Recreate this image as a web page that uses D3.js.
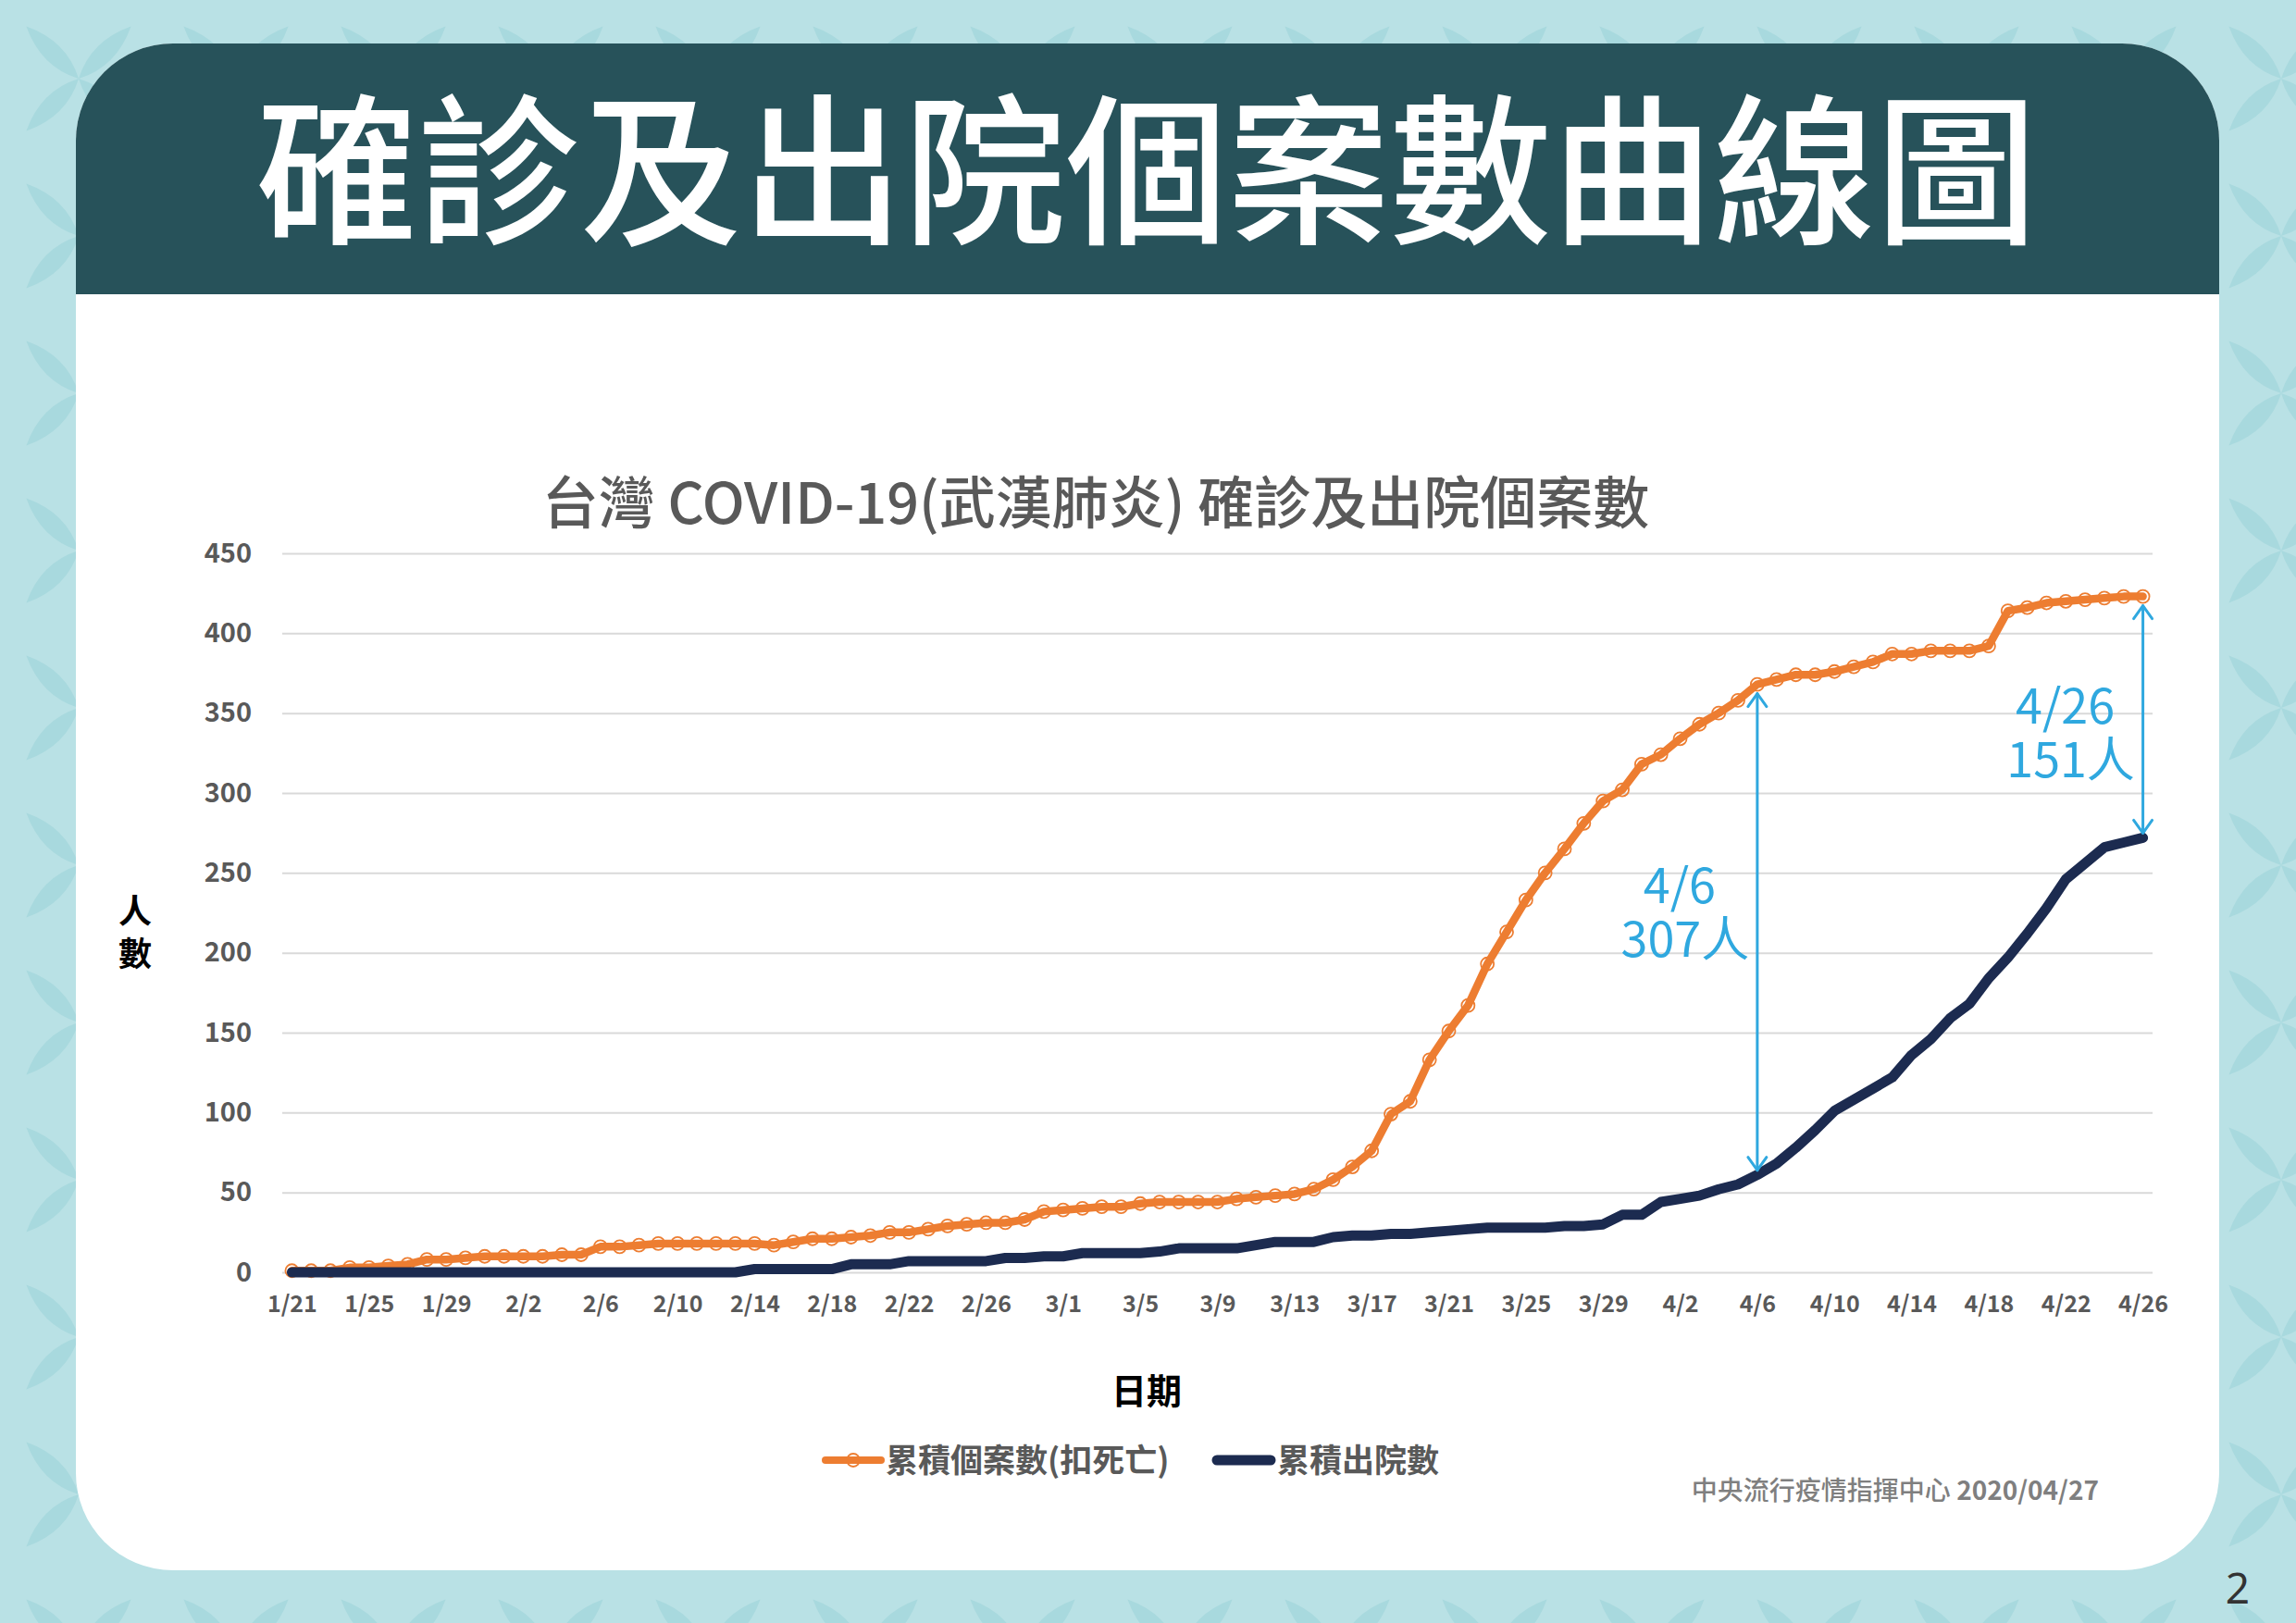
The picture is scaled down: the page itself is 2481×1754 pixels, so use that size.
<!DOCTYPE html>
<html>
<head>
<meta charset="utf-8">
<script src="https://cdn.jsdelivr.net/npm/d3@7"></script>
<style>
  body { margin: 0; background: #b8e1e5; }
  svg { display: block; }
</style>
</head>
<body>
<svg id="chart"></svg>
<script>
// 1/21 .. 4/26 (2020)
const dates = d3.timeDay.range(new Date(2020, 0, 21), new Date(2020, 3, 27)).map(d3.timeFormat("%-m/%-d"));

// 累積個案數(扣死亡)
const cases = [
  1, 1, 1, 3, 3, 4, 5, 8, 8, 9,
  10, 10, 10, 10, 11, 11, 16, 16, 17, 18,
  18, 18, 18, 18, 18, 17, 19, 21, 21, 22,
  23, 25, 25, 27, 29, 30, 31, 31, 33, 38,
  39, 40, 41, 41, 43, 44, 44, 44, 44, 46,
  47, 48, 49, 52, 58, 66, 76, 99, 107, 133,
  151, 167, 193, 213, 233, 250, 265, 281, 295, 302,
  318, 324, 334, 343, 350, 358, 368, 371, 374, 374,
  376, 379, 382, 387, 387, 389, 389, 389, 392, 414,
  416, 419, 420, 421, 422, 423, 423
];

// 累積出院數
const discharged = [
  0, 0, 0, 0, 0, 0, 0, 0, 0, 0,
  0, 0, 0, 0, 0, 0, 0, 0, 0, 0,
  0, 0, 0, 0, 2, 2, 2, 2, 2, 5,
  5, 5, 7, 7, 7, 7, 7, 9, 9, 10,
  10, 12, 12, 12, 12, 13, 15, 15, 15, 15,
  17, 19, 19, 19, 22, 23, 23, 24, 24, 25,
  26, 27, 28, 28, 28, 28, 29, 29, 30, 36,
  36, 44, 46, 48, 52, 55, 61, 68, 78, 89,
  101, 108, 115, 122, 136, 146, 159, 168, 184, 197,
  212, 228, 246, 256, 266, 269, 272
];

const yTicks = [0, 50, 100, 150, 200, 250, 300, 350, 400, 450];
const xTicks = dates.filter((d, i) => i % 4 === 0);

// gap annotations
const notes = [
  { date: "4/6", label: "4/6", value: "307人" },
  { date: "4/26", label: "4/26", value: "151人" }
];

const W = 2481, H = 1754;
const plot = { left: 305, right: 2326, top: 598, bottom: 1375 };
const orange = "#ed7d31", navy = "#1c2b50", cyan = "#2fa8df", gray = "#595959";
const cjk = "'Noto Sans CJK TC', 'Noto Sans', sans-serif";

const svg = d3.select("#chart").attr("width", W).attr("height", H);

// background leaf pattern
const defs = svg.append("defs");
const pat = defs.append("pattern")
  .attr("id", "leaves").attr("patternUnits", "userSpaceOnUse")
  .attr("width", 170).attr("height", 170);
pat.append("rect").attr("width", 170).attr("height", 170).attr("fill", "#b9e1e5");
[0, 90, 180, 270].forEach(a => {
  pat.append("path")
    .attr("d", "M0,-80 Q20,-38 0,0 Q-20,-38 0,-80Z")
    .attr("transform", `translate(85,85) rotate(${a + 45})`)
    .attr("fill", "#a8d9de");
});
svg.append("rect").attr("width", W).attr("height", H).attr("fill", "url(#leaves)");

// card
const card = { x: 82, y: 47, w: 2316, h: 1650, r: 105 };
svg.append("rect")
  .attr("x", card.x).attr("y", card.y).attr("width", card.w).attr("height", card.h)
  .attr("rx", card.r).attr("fill", "#ffffff");
// header band: rounded top, square bottom
const hb = 318;
svg.append("path")
  .attr("d", `M${card.x},${hb} V${card.y + card.r} A${card.r},${card.r} 0 0 1 ${card.x + card.r},${card.y}
    H${card.x + card.w - card.r} A${card.r},${card.r} 0 0 1 ${card.x + card.w},${card.y + card.r} V${hb} Z`)
  .attr("fill", "#27525a");
svg.append("text")
  .attr("x", 1239).attr("y", 250)
  .attr("text-anchor", "middle")
  .attr("font-family", cjk).attr("font-weight", 500).attr("font-size", 175)
  .attr("fill", "#ffffff")
  .text("確診及出院個案數曲線圖");

// scales
const x = d3.scalePoint().domain(dates).range([plot.left, plot.right]).padding(0.5);
const y = d3.scaleLinear().domain([0, 450]).range([plot.bottom, plot.top]);

// chart title
svg.append("text")
  .attr("x", 1184).attr("y", 566)
  .attr("text-anchor", "middle")
  .attr("font-family", cjk).attr("font-weight", 500).attr("font-size", 61)
  .attr("fill", gray)
  .text("台灣 COVID-19(武漢肺炎) 確診及出院個案數");

// y axis with gridlines
const yAxis = svg.append("g")
  .attr("transform", `translate(${plot.left},0)`)
  .call(d3.axisLeft(y).tickValues(yTicks).tickSize(-(plot.right - plot.left)).tickPadding(33));
yAxis.select(".domain").remove();
yAxis.selectAll(".tick line").attr("stroke", "#d9d9d9").attr("stroke-width", 2);
yAxis.selectAll(".tick text")
  .attr("font-family", cjk).attr("font-weight", 700).attr("font-size", 29).attr("fill", gray);

// x axis
const xAxis = svg.append("g")
  .attr("transform", `translate(0,${plot.bottom})`)
  .call(d3.axisBottom(x).tickValues(xTicks).tickSize(0).tickPadding(25));
xAxis.select(".domain").remove();
xAxis.selectAll(".tick text")
  .attr("font-family", cjk).attr("font-weight", 700).attr("font-size", 25).attr("fill", gray);

// axis titles
svg.append("text")
  .attr("x", 146).attr("y", 966)
  .attr("writing-mode", "vertical-rl")
  .attr("letter-spacing", 10)
  .attr("font-family", cjk).attr("font-weight", 700).attr("font-size", 36).attr("fill", "#000")
  .text("人數");
svg.append("text")
  .attr("x", 1239).attr("y", 1517).attr("text-anchor", "middle")
  .attr("font-family", cjk).attr("font-weight", 700).attr("font-size", 38).attr("fill", "#000")
  .text("日期");

// series
const line = d3.line().x((d, i) => x(dates[i])).y(d => y(d));
const g = svg.append("g");
g.selectAll("circle.m").data(cases).join("circle")
  .attr("class", "m")
  .attr("cx", (d, i) => x(dates[i])).attr("cy", d => y(d)).attr("r", 7)
  .attr("fill", "none").attr("stroke", orange).attr("stroke-width", 1.8);
g.append("path").datum(cases).attr("d", line)
  .attr("fill", "none").attr("stroke", orange).attr("stroke-width", 8.5)
  .attr("stroke-linejoin", "round").attr("stroke-linecap", "round");
g.append("path").datum(discharged).attr("d", line)
  .attr("fill", "none").attr("stroke", navy).attr("stroke-width", 11)
  .attr("stroke-linejoin", "round").attr("stroke-linecap", "round");

// gap arrows
function chevron(px, py, dir) {
  return `M${px - 10},${py + dir * 14} L${px},${py} L${px + 10},${py + dir * 14}`;
}
notes.forEach(n => {
  const i = dates.indexOf(n.date);
  const ax = x(n.date);
  const y1 = y(cases[i]) + 10, y2 = y(discharged[i]) - 5;
  const a = svg.append("g").attr("stroke", cyan).attr("stroke-width", 3).attr("fill", "none")
    .attr("stroke-linecap", "round").attr("stroke-linejoin", "round");
  a.append("line").attr("x1", ax).attr("x2", ax).attr("y1", y1).attr("y2", y2);
  a.append("path").attr("d", chevron(ax, y1, 1));
  a.append("path").attr("d", chevron(ax, y2, -1));
});
const mid = n => {
  const i = dates.indexOf(n.date);
  return (y(cases[i]) + y(discharged[i])) / 2;
};
const labelShift = [-29, 7];
notes.forEach((n, k) => {
  const tx = x(n.date) - 84;
  const t = svg.append("text").attr("font-family", cjk).attr("font-size", 52).attr("fill", cyan)
    .attr("text-anchor", "middle");
  t.append("tspan").attr("x", tx).attr("y", mid(n) + labelShift[k]).text(n.label);
  t.append("tspan").attr("x", tx + 6).attr("dy", 58).text(n.value);
});

// legend
const legend = svg.append("g").attr("font-family", cjk).attr("font-weight", 700)
  .attr("font-size", 35).attr("fill", gray);
legend.append("line").attr("x1", 892).attr("x2", 952).attr("y1", 1578).attr("y2", 1578)
  .attr("stroke", orange).attr("stroke-width", 8).attr("stroke-linecap", "round");
legend.append("circle").attr("cx", 922).attr("cy", 1578).attr("r", 7)
  .attr("fill", "none").attr("stroke", orange).attr("stroke-width", 1.8);
legend.append("text").attr("x", 957).attr("y", 1591).text("累積個案數(扣死亡)");
legend.append("line").attr("x1", 1315).attr("x2", 1373).attr("y1", 1578).attr("y2", 1578)
  .attr("stroke", navy).attr("stroke-width", 11).attr("stroke-linecap", "round");
legend.append("text").attr("x", 1380).attr("y", 1591).text("累積出院數");

// source
const src = svg.append("text").attr("x", 2268).attr("y", 1621).attr("text-anchor", "end")
  .attr("font-family", cjk).attr("font-size", 28).attr("fill", "#7f7f7f");
src.append("tspan").attr("font-weight", 500).text("中央流行疫情指揮中心 ");
src.append("tspan").attr("font-weight", 700).text("2020/04/27");

// page number
svg.append("text").attr("x", 2418).attr("y", 1733).attr("text-anchor", "middle")
  .attr("font-family", "'Noto Sans', sans-serif").attr("font-size", 46).attr("fill", "#333")
  .text("2");
</script>
</body>
</html>
